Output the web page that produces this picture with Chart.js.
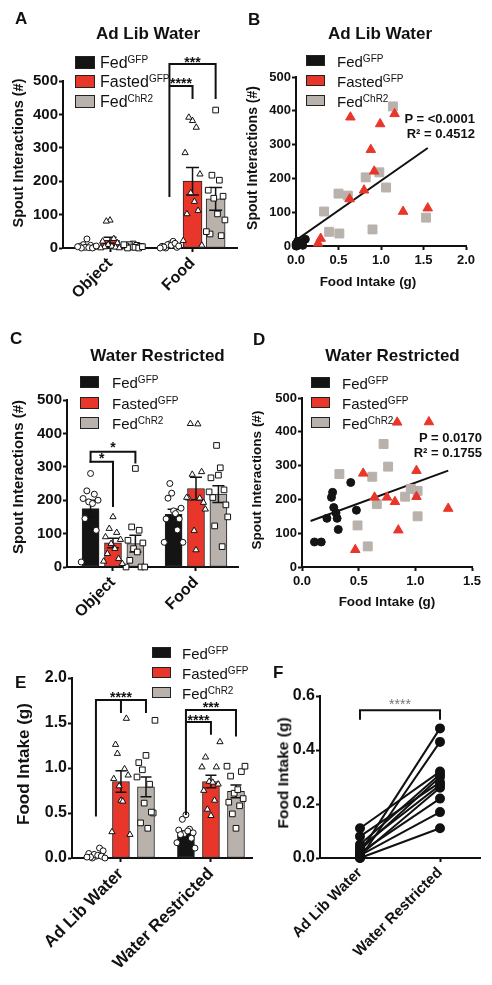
<!DOCTYPE html>
<html>
<head>
<meta charset="utf-8">
<script src="https://cdn.jsdelivr.net/npm/chart.js@4.4.1/dist/chart.umd.min.js"></script>
<style>
  body { margin: 0; background: #fff; }
  #page { position: relative; width: 492px; height: 985px; overflow: hidden; font-family: "Liberation Sans", Arial, sans-serif; color: #111; }
  .panel { position: absolute; }
  .t { position: absolute; white-space: nowrap; line-height: 1; }
  .t sup { font-size: 10px; position: relative; top: -0.5em; vertical-align: baseline; line-height: 0; font-weight: normal; }
  .box { position: absolute; border: 1px solid #222; box-sizing: border-box; }
</style>
</head>
<body>
<div id="page"></div>
<script>
// ---- data ----
const spoutCats = ["Object", "Food"];
const intakeCats = ["Ad Lib Water", "Water Restricted"];
const seriesNames = ["Fed", "Fasted", "Fed"];
const seriesTags = ["GFP", "GFP", "ChR2"];

// ad lib water, per animal (food intake g / spout interactions on food)
const fedAdLibIntake = [0.02, 0.00, 0.11, 0.05, 0.08, 0.04, 0.03, 0.01, 0.02, 0.01, 0.00];
const fedAdLibSpout = [12, 0, 20, 5, 2, 10, 8, 3, 14, 0, 6];
const fastedAdLibIntake = [0.64, 1.16, 0.99, 0.88, 0.92, 0.80, 0.63, 1.26, 1.55, 0.29, 0.26];
const fastedAdLibSpout = [381, 391, 361, 285, 221, 165, 139, 102, 112, 22, 8];
const chr2AdLibIntake = [1.14, 0.98, 0.82, 1.06, 0.50, 0.61, 0.33, 0.39, 0.51, 0.90, 1.53];
const chr2AdLibSpout = [413, 218, 203, 173, 155, 149, 102, 42, 37, 49, 84];

// water restricted, per animal
const fedWRIntake = [0.48, 0.43, 0.32, 0.31, 0.28, 0.27, 0.30, 0.26, 0.22, 0.17, 0.11];
const fedWRSpout = [168, 250, 111, 144, 176, 221, 160, 206, 144, 74, 74];
const fastedWRIntake = [0.47, 0.54, 0.64, 0.75, 0.82, 0.85, 0.84, 1.12, 1.01, 1.01, 1.29];
const fastedWRSpout = [51, 277, 206, 206, 193, 109, 428, 429, 285, 208, 173];
const chr2WRIntake = [0.33, 0.49, 0.58, 0.62, 0.66, 0.72, 0.76, 0.91, 0.96, 1.02, 1.02];
const chr2WRSpout = [275, 123, 61, 267, 186, 364, 297, 208, 231, 225, 150];

// spout interactions on the object
const objFedA = [27, 10, 8, 5, 3, 2, 1, 0, 0, 4, 6];
const objFastedA = [83, 80, 28, 20, 15, 10, 5, 3, 2, 0, 0];
const objChR2A = [12, 10, 8, 6, 5, 3, 2, 0, 0, 10, 4];
const objFedC = [280, 228, 218, 205, 200, 195, 190, 145, 110, 15];
const objFastedC = [150, 115, 103, 90, 82, 70, 55, 40, 25, 17, 10];
const objChR2C = [295, 120, 110, 80, 72, 55, 45, 20, 0, 0, 0];

// bar means and SEM  [Object/AdLib, Food/WR]
const adLibSpoutFedMean = [5, 6], adLibSpoutFedSem = [3, 2];
const adLibSpoutFastedMean = [23, 200], adLibSpoutFastedSem = [9, 41];
const adLibSpoutChR2Mean = [7, 147], adLibSpoutChR2Sem = [2, 34];
const wrSpoutFedMean = [175, 158], wrSpoutFedSem = [25, 15];
const wrSpoutFastedMean = [72, 235], wrSpoutFastedSem = [14, 34];
const wrSpoutChR2Mean = [70, 218], wrSpoutChR2Sem = [25, 25];
const intakeFedMean = [0.04, 0.27], intakeFedSem = [0.01, 0.03];
const intakeFastedMean = [0.85, 0.85], intakeFastedSem = [0.12, 0.07];
const intakeChR2Mean = [0.79, 0.74], intakeChR2Sem = [0.11, 0.07];

// regression line end points
const fitBX = [0, 1.55], fitBY = [17, 290];
const fitDX = [0.076, 1.29], fitDY = [136, 285];

// significance: [category, fromSeries, toSeries, top, leftLegEnd, rightLegEnd, label, labelAt, midLegEnd]
const sigA = [[1, 0, 2, 551, 153, 446, "***", 566], [1, 0, 1, 485, 485, 446, "****", 503]];
const sigC = [[0, 0, 2, 345, 312, 310, "*", 370], [0, 0, 1, 315, 312, 180, "*", 336]];
const sigE = [[0, 0, 2, 1.756, 0.46, 1.61, "****", 1.83, 1.61],
              [1, 0, 2, 1.644, 0.478, 1.35, "***", 1.72], [1, 0, 1, 1.51, 1.51, 1.37, "****", 1.575]];
const sigF = [[0, 0, 1, 0.547, 0.512, 0.512, "****", 0.584]];

// ---- style ----
const FONT = '"Liberation Sans", Arial, sans-serif';
const seriesColors = ["#141414", "#e8362a", "#b9b1ac"];
const shapes = ["circle", "triangle", "rect"];
const shapeR = [3, 3.6, 4];
const jitterPattern = [0, -1, 1, -2, 2, -0.5, 0.5, -1.5, 1.5, -2.5, 2.5];

Chart.defaults.font.family = FONT;
Chart.defaults.color = "#111";
Chart.defaults.animation = false;
Chart.defaults.plugins.legend.display = false;
Chart.defaults.plugins.tooltip.enabled = false;

const page = document.getElementById("page");

function addCanvas(box) {
  const div = document.createElement("div");
  div.className = "panel";
  div.style.left = box[0] + "px";
  div.style.top = box[1] + "px";
  div.style.width = box[2] + "px";
  div.style.height = box[3] + "px";
  const c = document.createElement("canvas");
  div.appendChild(c);
  page.appendChild(div);
  return c;
}

function axisLook(size) {
  return {
    border: { display: true, color: "#111", width: 2 },
    grid: { drawOnChartArea: false, drawTicks: true, tickLength: 4, tickColor: "#111", tickWidth: 2, offset: false },
    ticks: { color: "#111", font: { family: FONT, size: size, weight: "bold" } }
  };
}

function yAxis(w, max, step, size, fmt) {
  const a = axisLook(size);
  a.min = 0;
  a.max = max;
  a.afterFit = s => { s.width = w; s.paddingTop = 0; s.paddingBottom = 0; };
  a.ticks.stepSize = step;
  a.ticks.padding = 1;
  if (fmt) a.ticks.callback = fmt;
  return a;
}

function xAxisFit(a, h) {
  a.afterFit = s => { s.height = h; s.paddingLeft = 0; s.paddingRight = 0; };
  return a;
}

function bracketPlugin(sig, xOf, color, size, bold) {
  return {
    id: "brackets",
    afterDraw(chart) {
      const { ctx, scales: { x, y } } = chart;
      ctx.save();
      ctx.strokeStyle = "#111";
      ctx.lineWidth = 2;
      ctx.lineJoin = "miter";
      sig.forEach(b => {
        const [cat, s1, s2, top, leg1, leg2, label, labelAt, midLeg] = b;
        const x1 = x.getPixelForValue(xOf(cat, s1));
        const x2 = x.getPixelForValue(xOf(cat, s2));
        const yt = y.getPixelForValue(top);
        ctx.beginPath();
        ctx.moveTo(x1, y.getPixelForValue(leg1));
        ctx.lineTo(x1, yt);
        ctx.lineTo(x2, yt);
        ctx.lineTo(x2, y.getPixelForValue(leg2));
        if (midLeg !== undefined) {
          const xm = x.getPixelForValue(xOf(cat, 1));
          ctx.moveTo(xm, yt);
          ctx.lineTo(xm, y.getPixelForValue(midLeg));
        }
        ctx.stroke();
        if (label) {
          ctx.fillStyle = color;
          ctx.font = (bold ? "bold " : "") + size + "px " + FONT;
          ctx.textAlign = "center";
          ctx.textBaseline = "alphabetic";
          ctx.fillText(label, (x1 + x2) / 2, y.getPixelForValue(labelAt) + 0.6 * size);
        }
      });
      ctx.restore();
    }
  };
}

function barPanel(p) {
  const canvas = addCanvas(p.box);
  const offs = [-p.off, 0, p.off];
  const xOf = (cat, s) => cat + offs[s];
  const datasets = [];
  seriesColors.forEach((col, s) => {
    datasets.push({
      type: "bar", order: 3, grouped: false, barThickness: p.bw,
      backgroundColor: col, borderColor: "#222", borderWidth: 1, borderSkipped: false,
      data: p.cats.map((c, i) => ({ x: xOf(i, s), y: p.means[s][i] }))
    });
  });
  seriesColors.forEach((col, s) => {
    p.cats.forEach((c, i) => {
      datasets.push({
        type: "scatter", order: 1, clip: false,
        pointStyle: shapes[s], pointRadius: shapeR[s], pointBorderWidth: 1,
        pointBackgroundColor: "#fff", pointBorderColor: "#111",
        data: p.points[s][i].map((v, k) => ({ x: xOf(i, s) + jitterPattern[k % jitterPattern.length] * p.jit, y: v }))
      });
    });
  });
  const errPlugin = {
    id: "errorBars",
    afterDatasetDraw(chart, args) {
      if (args.index > 2) return;
      const s = args.index;
      const { ctx, scales: { x, y } } = chart;
      ctx.save();
      ctx.strokeStyle = "#111";
      ctx.lineWidth = 1.5;
      p.means[s].forEach((m, i) => {
        const e = p.sems[s][i];
        const px = x.getPixelForValue(xOf(i, s));
        const hi = y.getPixelForValue(m + e), lo = y.getPixelForValue(Math.max(0, m - e));
        const c = p.cap / 2;
        ctx.beginPath();
        ctx.moveTo(px, lo); ctx.lineTo(px, hi);
        ctx.moveTo(px - c, hi); ctx.lineTo(px + c, hi);
        ctx.moveTo(px - c, lo); ctx.lineTo(px + c, lo);
        ctx.stroke();
      });
      ctx.restore();
    }
  };
  const xa = xAxisFit(axisLook(p.catSize), p.xH);
  xa.type = "linear";
  xa.min = p.xMin;
  xa.max = p.xMax;
  xa.offset = false;
  xa.afterBuildTicks = s => { s.ticks = p.cats.map((c, i) => ({ value: i })); };
  xa.ticks.autoSkip = false;
  xa.ticks.minRotation = 45;
  xa.ticks.maxRotation = 45;
  xa.ticks.padding = 2;
  xa.ticks.callback = v => p.cats[v];
  new Chart(canvas, {
    type: "bar",
    data: { datasets },
    options: {
      responsive: true, maintainAspectRatio: false,
      layout: { padding: { top: p.padTop, right: p.padRight, left: 0, bottom: 0 } },
      scales: { x: xa, y: yAxis(p.yW, p.yMax, p.yStep, p.tickSize, p.yFmt) }
    },
    plugins: [errPlugin, bracketPlugin(p.sig, xOf, "#111", 14, true)]
  });
}

function pairs(xs, ys) { return xs.map((v, i) => ({ x: v, y: ys[i] })); }

function scatterPanel(p) {
  const canvas = addCanvas(p.box);
  const xa = xAxisFit(axisLook(13), p.xH);
  xa.type = "linear";
  xa.min = 0;
  xa.max = p.xMax;
  xa.ticks.stepSize = 0.5;
  xa.ticks.padding = 3;
  xa.ticks.callback = v => v.toFixed(1);
  new Chart(canvas, {
    type: "scatter",
    data: {
      datasets: [
        { type: "line", order: 2, data: pairs(p.fitX, p.fitY), borderColor: "#111", borderWidth: 2, pointRadius: 0 },
        { order: 1, clip: false, data: pairs(p.xs[0], p.ys[0]), pointStyle: "circle", pointRadius: 4,
          pointBackgroundColor: seriesColors[0], pointBorderColor: seriesColors[0] },
        { order: 1, clip: false, data: pairs(p.xs[1], p.ys[1]), pointStyle: "triangle", pointRadius: 5.5,
          pointBackgroundColor: seriesColors[1], pointBorderColor: seriesColors[1] },
        { order: 1, clip: false, data: pairs(p.xs[2], p.ys[2]), pointStyle: "rect", pointRadius: 6.3,
          pointBackgroundColor: seriesColors[2], pointBorderColor: seriesColors[2] }
      ]
    },
    options: {
      responsive: true, maintainAspectRatio: false,
      layout: { padding: { top: p.padTop, right: p.padRight, left: 0, bottom: 0 } },
      scales: { x: xa, y: yAxis(p.yW, 500, 100, 13) }
    }
  });
}

// ---- A ----
barPanel({
  box: [0, 0, 246, 300], yW: 63, padTop: 81, padRight: 9, xH: 52,
  xMin: -0.57, xMax: 1.539, off: 0.28, bw: 19, cap: 13, jit: 0.045,
  cats: spoutCats, yMax: 500, yStep: 100, tickSize: 15, catSize: 16,
  means: [adLibSpoutFedMean, adLibSpoutFastedMean, adLibSpoutChR2Mean],
  sems: [adLibSpoutFedSem, adLibSpoutFastedSem, adLibSpoutChR2Sem],
  points: [[objFedA, fedAdLibSpout], [objFastedA, fastedAdLibSpout], [objChR2A, chr2AdLibSpout]],
  sig: sigA
});

// ---- B ----
scatterPanel({
  box: [246, 0, 246, 300], yW: 50, padTop: 77, padRight: 26, xH: 54, xMax: 2,
  xs: [fedAdLibIntake, fastedAdLibIntake, chr2AdLibIntake],
  ys: [fedAdLibSpout, fastedAdLibSpout, chr2AdLibSpout],
  fitX: fitBX, fitY: fitBY
});

// ---- C ----
barPanel({
  box: [0, 300, 246, 320], yW: 67, padTop: 100, padRight: 8, xH: 53,
  xMin: -0.554, xMax: 1.506, off: 0.27, bw: 17, cap: 12, jit: 0.045,
  cats: spoutCats, yMax: 500, yStep: 100, tickSize: 15, catSize: 16,
  means: [wrSpoutFedMean, wrSpoutFastedMean, wrSpoutChR2Mean],
  sems: [wrSpoutFedSem, wrSpoutFastedSem, wrSpoutChR2Sem],
  points: [[objFedC, fedWRSpout], [objFastedC, fastedWRSpout], [objChR2C, chr2WRSpout]],
  sig: sigC
});

// ---- D ----
scatterPanel({
  box: [246, 300, 246, 320], yW: 56, padTop: 98, padRight: 20, xH: 53, xMax: 1.5,
  xs: [fedWRIntake, fastedWRIntake, chr2WRIntake],
  ys: [fedWRSpout, fastedWRSpout, chr2WRSpout],
  fitX: fitDX, fitY: fitDY
});

// ---- E ----
barPanel({
  box: [0, 620, 260, 365], yW: 72, padTop: 58, padRight: 8, xH: 127,
  xMin: -0.544, xMax: 1.456, off: 0.278, bw: 17, cap: 11, jit: 0.04,
  cats: intakeCats, yMax: 2, yStep: 0.5, tickSize: 16, catSize: 17, yFmt: v => v.toFixed(1),
  means: [intakeFedMean, intakeFastedMean, intakeChR2Mean],
  sems: [intakeFedSem, intakeFastedSem, intakeChR2Sem],
  points: [[fedAdLibIntake, fedWRIntake], [fastedAdLibIntake, fastedWRIntake], [chr2AdLibIntake, chr2WRIntake]],
  sig: sigE
});

// ---- F ----
(function () {
  const canvas = addCanvas([246, 620, 246, 365]);
  const xa = xAxisFit(axisLook(15), 127);
  xa.type = "category";
  xa.offset = true;
  xa.ticks.autoSkip = false;
  xa.ticks.minRotation = 45;
  xa.ticks.maxRotation = 45;
  xa.ticks.padding = 2;
  new Chart(canvas, {
    type: "line",
    data: {
      labels: intakeCats,
      datasets: fedAdLibIntake.map((v, i) => ({
        data: [v, fedWRIntake[i]], clip: false,
        borderColor: "#111", borderWidth: 2, pointRadius: 4,
        pointBackgroundColor: "#111", pointBorderColor: "#111"
      }))
    },
    options: {
      responsive: true, maintainAspectRatio: false,
      layout: { padding: { top: 76, right: 12, left: 0, bottom: 0 } },
      scales: { x: xa, y: yAxis(74, 0.6, 0.2, 16, v => v.toFixed(1)) }
    },
    plugins: [bracketPlugin(sigF, (cat, s) => s, "#777", 14, false)]
  });
})();

// ---- text overlays ----
function txt(html, x, y, o) {
  const d = document.createElement("div");
  d.className = "t";
  d.innerHTML = html;
  d.style.left = x + "px";
  d.style.top = y + "px";
  d.style.fontSize = o.size + "px";
  d.style.fontWeight = o.bold ? "bold" : "normal";
  const tx = { left: "0", center: "-50%", right: "-100%" }[o.align || "left"];
  d.style.transform = o.rot ? "translate(-50%, -50%) rotate(-90deg)" : "translate(" + tx + ", -50%)";
  if (o.color) d.style.color = o.color;
  page.appendChild(d);
}

function legend(bx, bw, bh, ys, tx, size) {
  ys.forEach((y, s) => {
    const b = document.createElement("div");
    b.className = "box";
    b.style.left = bx + "px";
    b.style.top = (y - bh / 2) + "px";
    b.style.width = bw + "px";
    b.style.height = bh + "px";
    b.style.background = seriesColors[s];
    page.appendChild(b);
    txt(seriesNames[s] + "<sup>" + seriesTags[s] + "</sup>", tx, y + 0.5, { size: size });
  });
}

// panel letters
txt("A", 15, 18, { size: 17, bold: true });
txt("B", 248, 19, { size: 17, bold: true });
txt("C", 10, 338, { size: 17, bold: true });
txt("D", 253, 339, { size: 17, bold: true });
txt("E", 15, 682, { size: 17, bold: true });
txt("F", 273, 672, { size: 17, bold: true });

// titles
txt("Ad Lib Water", 148, 32.5, { size: 17, bold: true, align: "center" });
txt("Ad Lib Water", 380, 33, { size: 17, bold: true, align: "center" });
txt("Water Restricted", 157.5, 355, { size: 17, bold: true, align: "center" });
txt("Water Restricted", 392.5, 355, { size: 17, bold: true, align: "center" });

// axis titles
txt("Spout Interactions (#)", 18, 153, { size: 14.5, bold: true, rot: true });
txt("Spout Interactions (#)", 252, 158, { size: 14, bold: true, rot: true });
txt("Spout Interactions (#)", 17, 477, { size: 15, bold: true, rot: true });
txt("Spout Interactions (#)", 257, 480, { size: 13.5, bold: true, rot: true });
txt("Food Intake (g)", 22.5, 764, { size: 17, bold: true, rot: true });
txt("Food Intake (g)", 283, 773, { size: 15.5, bold: true, rot: true });
txt("Food Intake (g)", 368, 282, { size: 13.5, bold: true, align: "center" });
txt("Food Intake (g)", 387, 602, { size: 13.5, bold: true, align: "center" });

// fit stats
txt("P = &lt;0.0001", 475, 117.5, { size: 13, bold: true, align: "right" });
txt("R² = 0.4512", 475, 132.5, { size: 13, bold: true, align: "right" });
txt("P = 0.0170", 482, 437, { size: 13, bold: true, align: "right" });
txt("R² = 0.1755", 482, 452, { size: 13, bold: true, align: "right" });

// legends
legend(75, 20, 13, [62, 81, 101], 100, 16);
legend(306, 19, 11, [60, 80, 100], 337, 15);
legend(80, 19, 12, [381.5, 402.5, 422.5], 112, 15);
legend(311, 19, 11, [382, 402, 422.5], 342, 15);
legend(152, 19, 11, [652, 672.5, 692], 182, 15);
</script>
</body>
</html>
